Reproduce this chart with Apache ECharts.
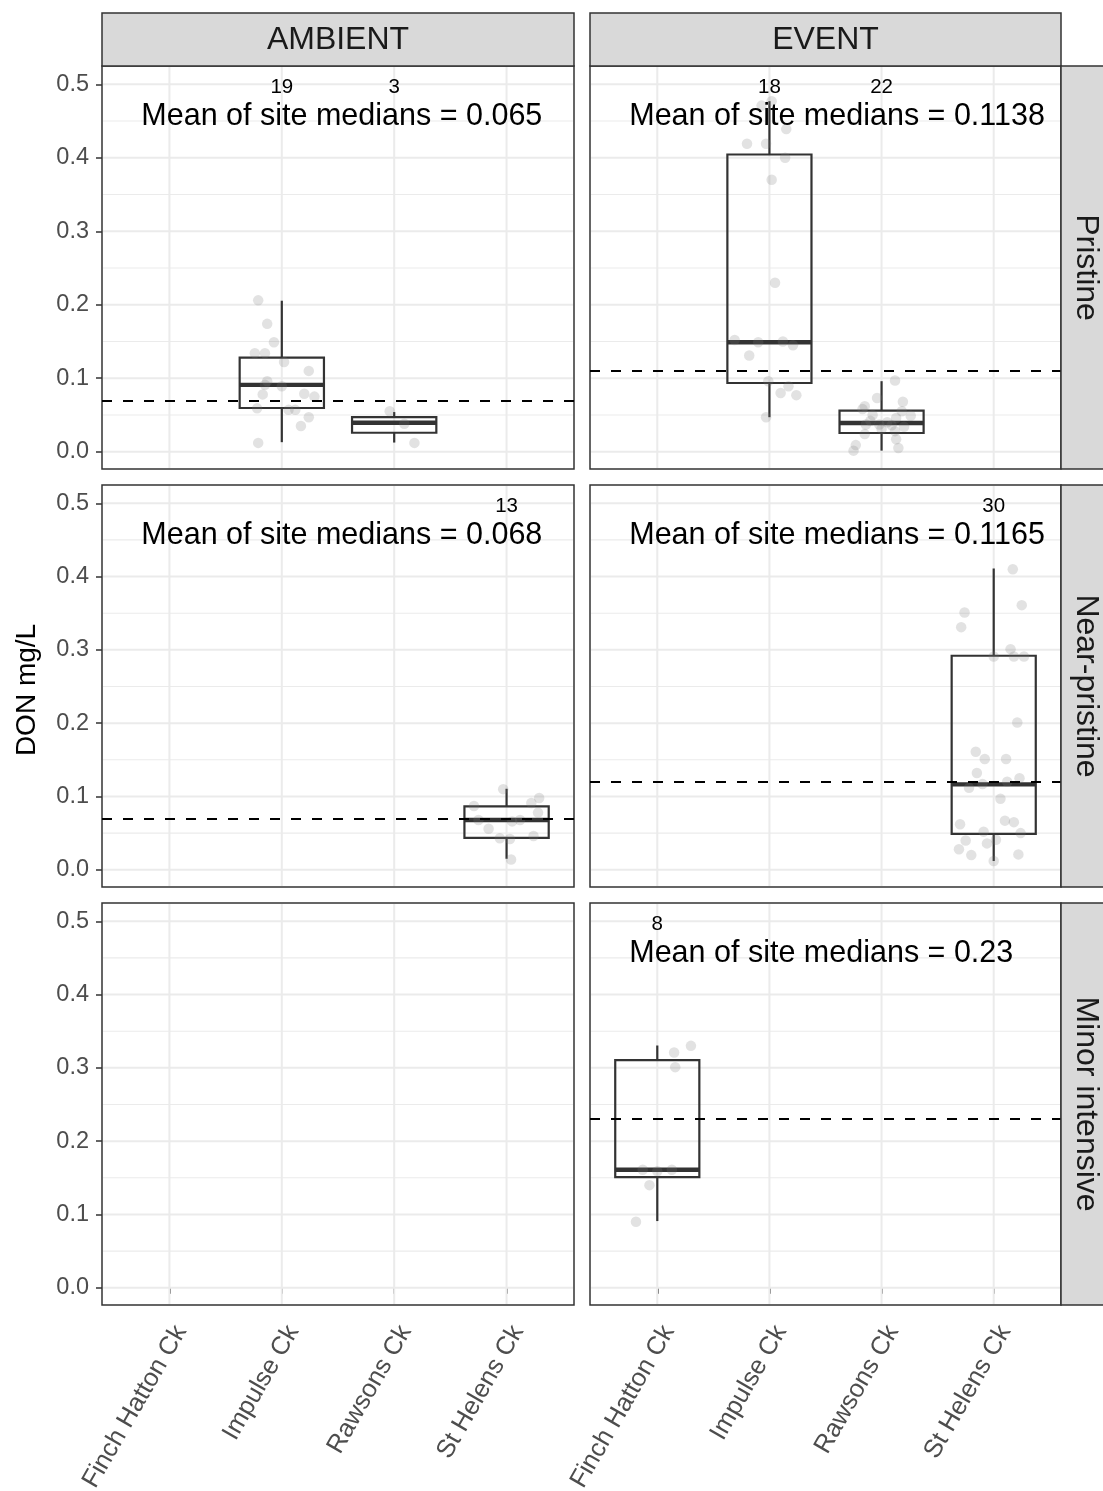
<!DOCTYPE html>
<html>
<head>
<meta charset="utf-8">
<title>DON mg/L by site, flow type and land use</title>
<script src="https://cdn.jsdelivr.net/npm/echarts@6/dist/echarts.min.js"></script>
<style>
  html, body { margin: 0; padding: 0; background: #ffffff; }
  #chart { width: 1103px; height: 1491px; }
</style>
</head>
<body>
<div id="chart"></div>
<script>
// ---------------------------------------------------------------
// Data
// ---------------------------------------------------------------
const sites = ['Finch Hatton Ck', 'Impulse Ck', 'Rawsons Ck', 'St Helens Ck'];
const flowTypes = ['AMBIENT', 'EVENT'];
const landUses = ['Pristine', 'Near-pristine', 'Minor intensive'];
const yTicks = [0, 0.1, 0.2, 0.3, 0.4, 0.5];
const yMinorTicks = [0.05, 0.15, 0.25, 0.35, 0.45];

// Box statistics: [lower whisker, Q1, median, Q3, upper whisker]
// Jittered samples: [horizontal jitter (category units), DON mg/L]

// AMBIENT / Pristine
const ambPriImpulseBox = [0.0130, 0.0595, 0.0910, 0.1280, 0.2055];
const ambPriImpulsePts = [[-0.21,0.206],[-0.13,0.174],[-0.07,0.149],[-0.24,0.134],[-0.15,0.134],
  [0.02,0.122],[0.24,0.110],[-0.13,0.096],[-0.15,0.091],[0.00,0.089],[-0.17,0.078],[0.20,0.079],
  [0.29,0.075],[-0.22,0.059],[0.06,0.057],[0.12,0.057],[0.24,0.047],[0.17,0.035],[-0.21,0.012]];
const ambPriImpulseN = 19;
const ambPriRawsonsBox = [0.0125, 0.0258, 0.0395, 0.0470, 0.0540];
const ambPriRawsonsPts = [[-0.04,0.055],[0.09,0.038],[0.18,0.012]];
const ambPriRawsonsN = 3;
const ambPriMean = 0.065;

// EVENT / Pristine
const evtPriImpulseBox = [0.0470, 0.0935, 0.1490, 0.4045, 0.4770];
const evtPriImpulsePts = [[-0.07,0.471],[0.15,0.439],[-0.20,0.419],[-0.03,0.419],[0.14,0.400],
  [0.02,0.370],[0.05,0.230],[-0.31,0.152],[0.21,0.145],[-0.18,0.131],[-0.01,0.096],[0.17,0.089],
  [0.10,0.080],[0.24,0.077],[-0.03,0.047],[-0.10,0.149],[0.12,0.150],[0.02,0.477]];
const evtPriImpulseN = 18;
const evtPriRawsonsBox = [0.0015, 0.0255, 0.0390, 0.0560, 0.0960];
const evtPriRawsonsPts = [[0.12,0.097],[-0.04,0.073],[0.19,0.068],[-0.15,0.062],[-0.17,0.058],
  [0.18,0.055],[-0.08,0.050],[0.26,0.049],[0.13,0.046],[-0.14,0.037],[-0.02,0.037],[0.09,0.036],
  [-0.15,0.024],[0.12,0.028],[0.13,0.017],[0.15,0.005],[-0.23,0.009],[-0.25,0.0015],
  [0.05,0.040],[-0.10,0.042],[0.20,0.034],[0.00,0.031]];
const evtPriRawsonsN = 22;
const evtPriMean = 0.1138;

// AMBIENT / Near-pristine
const ambNearStHelensBox = [0.0150, 0.0435, 0.0680, 0.0865, 0.1105];
const ambNearStHelensPts = [[-0.03,0.110],[0.29,0.098],[0.22,0.091],[-0.29,0.087],[0.28,0.078],
  [0.12,0.068],[-0.16,0.056],[-0.06,0.043],[0.03,0.042],[0.24,0.046],[0.04,0.014],
  [-0.25,0.068],[0.05,0.066]];
const ambNearStHelensN = 13;
const ambNearMean = 0.068;

// EVENT / Near-pristine
const evtNearStHelensBox = [0.0120, 0.0490, 0.1165, 0.2920, 0.4110];
const evtNearStHelensPts = [[0.17,0.410],[0.25,0.361],[-0.26,0.351],[-0.29,0.331],[0.15,0.301],
  [0.18,0.291],[0.27,0.291],[0.21,0.201],[-0.16,0.161],[-0.08,0.151],[0.11,0.151],[-0.15,0.132],
  [0.23,0.125],[-0.22,0.112],[0.06,0.097],[0.10,0.067],[0.18,0.065],[-0.30,0.062],[-0.09,0.052],
  [0.24,0.050],[0.02,0.041],[-0.25,0.040],[-0.06,0.036],[-0.31,0.028],[-0.20,0.020],[0.22,0.021],
  [0.00,0.012],[0.00,0.291],[-0.10,0.117],[0.12,0.120]];
const evtNearStHelensN = 30;
const evtNearMean = 0.1165;

// EVENT / Minor intensive
const evtMinorFinchBox = [0.0910, 0.1510, 0.1610, 0.3105, 0.3305];
const evtMinorFinchPts = [[0.30,0.330],[0.15,0.321],[0.16,0.301],[-0.13,0.161],[0.13,0.161],
  [-0.07,0.140],[-0.19,0.090],[0.00,0.159]];
const evtMinorFinchN = 8;
const evtMinorMean = 0.23;

// Facet table: one entry per panel (row = land use, column = flow type)
const panels = [
  { row: 0, col: 0, mean: ambPriMean, groups: [
      { site: 'Impulse Ck', box: ambPriImpulseBox, pts: ambPriImpulsePts, n: ambPriImpulseN },
      { site: 'Rawsons Ck', box: ambPriRawsonsBox, pts: ambPriRawsonsPts, n: ambPriRawsonsN } ] },
  { row: 0, col: 1, mean: evtPriMean, groups: [
      { site: 'Impulse Ck', box: evtPriImpulseBox, pts: evtPriImpulsePts, n: evtPriImpulseN },
      { site: 'Rawsons Ck', box: evtPriRawsonsBox, pts: evtPriRawsonsPts, n: evtPriRawsonsN } ] },
  { row: 1, col: 0, mean: ambNearMean, groups: [
      { site: 'St Helens Ck', box: ambNearStHelensBox, pts: ambNearStHelensPts, n: ambNearStHelensN } ] },
  { row: 1, col: 1, mean: evtNearMean, groups: [
      { site: 'St Helens Ck', box: evtNearStHelensBox, pts: evtNearStHelensPts, n: evtNearStHelensN } ] },
  { row: 2, col: 0, mean: null, groups: [] },
  { row: 2, col: 1, mean: evtMinorMean, groups: [
      { site: 'Finch Hatton Ck', box: evtMinorFinchBox, pts: evtMinorFinchPts, n: evtMinorFinchN } ] }
];

// ---------------------------------------------------------------
// Layout and styling
// ---------------------------------------------------------------
const FONT = "'Liberation Sans', Arial, Helvetica, sans-serif";
const colLeft = [102, 590];
const colWidth = [472, 471];
const rowTop = [66, 485, 903];
const rowHeight = [403, 402, 402];
const stripTop = 13;
const stripSize = 53;
const X_MIN = 0.4, X_MAX = 4.6;        // discrete axis with 0.6 padding each side
const Y_MIN = -0.0235, Y_MAX = 0.5249;  // 5% expansion of the 0 .. 0.5 range
const COUNT_Y = 0.5;                    // sample-size labels
const MEAN_LABEL_X = 0.75, MEAN_LABEL_Y = 0.46;
const TEXT_NUDGE = 3;                   // optical centring of annotation text (px)
const siteTicks = sites.map((s, i) => i + 1);

const chart = echarts.init(document.getElementById('chart'), null, { renderer: 'canvas' });

const grids = [], xAxes = [], yAxes = [], series = [];

panels.forEach((p, gi) => {
  const isBottom = p.row === 2;
  const isLeft = p.col === 0;
  grids.push({
    left: colLeft[p.col], top: rowTop[p.row],
    width: colWidth[p.col], height: rowHeight[p.row],
    containLabel: false, outerBoundsMode: 'none',
    show: true, borderColor: '#333333', borderWidth: 1.5, backgroundColor: '#ffffff'
  });
  xAxes.push({
    gridIndex: gi, type: 'value', min: X_MIN, max: X_MAX,
    axisLine: { show: false },
    splitLine: { show: false },
    axisTick: { show: isBottom, length: 6, customValues: siteTicks,
                lineStyle: { color: '#333333', width: 1.5 } },
    axisLabel: { show: isBottom, customValues: siteTicks, rotate: 60, margin: 16,
                 align: 'right', verticalAlign: 'top',
                 color: '#4D4D4D', fontSize: 25.5, fontFamily: FONT,
                 formatter: v => sites[Math.round(v) - 1] || '' }
  });
  yAxes.push({
    gridIndex: gi, type: 'value', min: Y_MIN, max: Y_MAX,
    axisLine: { show: false },
    splitLine: { show: false },
    axisTick: { show: isLeft, length: 6, customValues: yTicks,
                lineStyle: { color: '#333333', width: 1.5 } },
    axisLabel: { show: isLeft, customValues: yTicks, margin: 13,
                 color: '#4D4D4D', fontSize: 23.5, fontFamily: FONT,
                 formatter: v => v.toFixed(1) }
  });

  // panel grid lines (major/minor horizontal, major vertical at each site)
  const gridLineData = []
    .concat(yMinorTicks.map(v => [1, v]))
    .concat(yTicks.map(v => [0, v]))
    .concat(siteTicks.map(v => [2, v]));
  series.push({
    type: 'custom', xAxisIndex: gi, yAxisIndex: gi, silent: true, z: 1,
    data: gridLineData,
    encode: { x: -1, y: -1 },
    renderItem: (params, api) => {
      const kind = api.value(0), v = api.value(1);
      const cs = params.coordSys;
      if (kind === 2) {
        const x = api.coord([v, 0])[0];
        return { type: 'line', shape: { x1: x, y1: cs.y + 1, x2: x, y2: cs.y + cs.height - 1 },
                 style: { stroke: '#EBEBEB', lineWidth: 2 } };
      }
      const y = api.coord([1, v])[1];
      return { type: 'line', shape: { x1: cs.x + 1, y1: y, x2: cs.x + cs.width - 1, y2: y },
               style: { stroke: '#EBEBEB', lineWidth: kind === 0 ? 2 : 1.1 } };
    }
  });

  // box plots
  const boxData = p.groups.map(g => [sites.indexOf(g.site) + 1].concat(g.box));
  const boxSeries = {
    type: 'custom', xAxisIndex: gi, yAxisIndex: gi, silent: true, z: 3,
    data: boxData,
    encode: { x: 0, y: [1, 2, 3, 4, 5] },
    renderItem: (params, api) => {
      const x = api.value(0);
      const cx = api.coord([x, 0])[0];
      const half = api.coord([x + 0.375, 0])[0] - cx;
      const yLw = api.coord([x, api.value(1)])[1];
      const yQ1 = api.coord([x, api.value(2)])[1];
      const yMed = api.coord([x, api.value(3)])[1];
      const yQ3 = api.coord([x, api.value(4)])[1];
      const yUw = api.coord([x, api.value(5)])[1];
      const st = { stroke: '#333333', lineWidth: 2.2, fill: null };
      return { type: 'group', children: [
        { type: 'line', shape: { x1: cx, y1: yUw, x2: cx, y2: yQ3 }, style: st },
        { type: 'line', shape: { x1: cx, y1: yQ1, x2: cx, y2: yLw }, style: st },
        { type: 'rect', shape: { x: cx - half, y: yQ3, width: 2 * half, height: yQ1 - yQ3 },
          style: { stroke: '#333333', lineWidth: 2.2, fill: 'rgba(0,0,0,0)' } },
        { type: 'line', shape: { x1: cx - half, y1: yMed, x2: cx + half, y2: yMed },
          style: { stroke: '#333333', lineWidth: 4.4 } }
      ] };
    }
  };
  if (p.mean !== null) {
    boxSeries.markLine = {
      silent: true, symbol: 'none', label: { show: false },
      lineStyle: { color: '#000000', type: [10, 11], width: 2.2 },
      data: [{ yAxis: p.mean }]
    };
  }
  series.push(boxSeries);

  // jittered samples
  const ptData = [];
  p.groups.forEach(g => {
    const xi = sites.indexOf(g.site) + 1;
    g.pts.forEach(([o, v]) => ptData.push([xi + o, v]));
  });
  series.push({
    type: 'scatter', xAxisIndex: gi, yAxisIndex: gi, silent: true, z: 4,
    symbol: 'circle', symbolSize: 10.5,
    itemStyle: { color: 'rgba(120,120,120,0.27)' },
    data: ptData
  });

  // sample-size and mean-of-medians annotations
  const textData = p.groups.map(g => [sites.indexOf(g.site) + 1, COUNT_Y, String(g.n), 0]);
  if (p.mean !== null) {
    textData.push([MEAN_LABEL_X, MEAN_LABEL_Y, 'Mean of site medians = ' + p.mean, 1]);
  }
  series.push({
    type: 'custom', xAxisIndex: gi, yAxisIndex: gi, silent: true, z: 5,
    data: textData,
    encode: { x: 0, y: 1 },
    renderItem: (params, api) => {
      const d = textData[params.dataIndex];
      const pt = api.coord([d[0], d[1]]);
      const isMean = d[3] === 1;
      return { type: 'text', x: pt[0], y: pt[1] + TEXT_NUDGE,
               style: { text: d[2], fill: '#000000',
                        font: (isMean ? '30.5px ' : '20.5px ') + FONT,
                        align: isMean ? 'left' : 'center', verticalAlign: 'middle' } };
    }
  });
});

// facet strips
const graphics = [];
flowTypes.forEach((f, c) => {
  graphics.push({ type: 'rect', shape: { x: colLeft[c], y: stripTop, width: colWidth[c], height: stripSize },
                  style: { fill: '#D9D9D9', stroke: '#333333', lineWidth: 1.5 }, z: 10 });
  graphics.push({ type: 'text', x: colLeft[c] + colWidth[c] / 2, y: stripTop + stripSize / 2 + 1,
                  style: { text: f, fill: '#1A1A1A', font: '32px ' + FONT, align: 'center', verticalAlign: 'middle' }, z: 11 });
});
const stripX = colLeft[1] + colWidth[1];
landUses.forEach((l, r) => {
  graphics.push({ type: 'rect', shape: { x: stripX, y: rowTop[r], width: stripSize, height: rowHeight[r] },
                  style: { fill: '#D9D9D9', stroke: '#333333', lineWidth: 1.5 }, z: 10 });
  graphics.push({ type: 'text', x: stripX + 25, y: rowTop[r] + rowHeight[r] / 2, rotation: -Math.PI / 2,
                  style: { text: l, fill: '#1A1A1A', font: '32px ' + FONT, align: 'center', verticalAlign: 'middle' }, z: 11 });
});
// y axis title
graphics.push({ type: 'text', x: 27, y: 690, rotation: Math.PI / 2,
                style: { text: 'DON mg/L', fill: '#000000', font: '28px ' + FONT, align: 'center', verticalAlign: 'middle' }, z: 11 });

chart.setOption({
  animation: false,
  backgroundColor: '#ffffff',
  grid: grids,
  xAxis: xAxes,
  yAxis: yAxes,
  series: series,
  graphic: { elements: graphics }
});
</script>
</body>
</html>
